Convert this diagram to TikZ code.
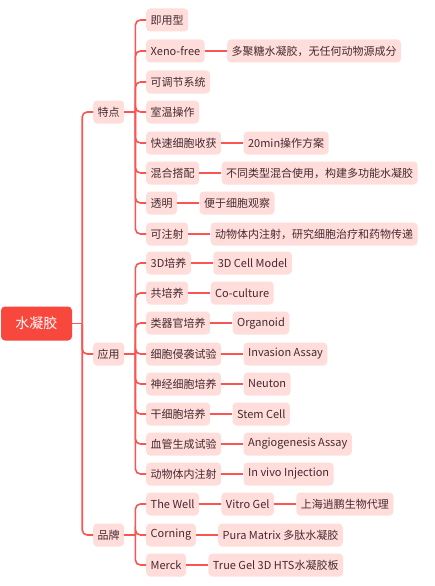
\documentclass[tikz,border=0pt]{standalone}
\usepackage{fontspec}
\setmainfont{Noto Sans CJK SC}
\usetikzlibrary{positioning}
\definecolor{rootred}{HTML}{F8473D}
\definecolor{linered}{HTML}{FA5552}
\definecolor{pinkfill}{HTML}{FFDDDA}
\definecolor{txt}{HTML}{452A30}
\tikzset{
  rootbox/.style={fill=rootred, text=white, rounded corners=4pt, minimum width=71pt, minimum height=34pt, inner sep=0pt, font=\fontsize{14}{16}\selectfont},
  topic/.style={fill=pinkfill, text=txt, rounded corners=4pt, minimum height=23pt, inner xsep=4.5pt, inner ysep=0pt, font=\fontsize{11}{13}\selectfont, anchor=west},
  conn/.style={draw=linered, line width=1.6pt, rounded corners=5pt},
}
\begin{document}
\begin{tikzpicture}[x=1pt,y=-1pt]
\useasboundingbox (0,0) rectangle (435,586);
\node[rootbox] (root) at (36.5,323.5) {水凝胶};
% level 1
\node[topic] (f) at (93,112) {特点};
\node[topic] (a) at (93,354) {应用};
\node[topic] (b) at (93,535) {品牌};
% features
\node[topic] (f1) at (146,20) {即用型};
\node[topic] (f2) at (146,51) {Xeno-free};
\node[topic] (f3) at (146,82) {可调节系统};
\node[topic] (f4) at (146,112) {室温操作};
\node[topic] (f5) at (146,143) {快速细胞收获};
\node[topic] (f6) at (146,173) {混合搭配};
\node[topic] (f7) at (146,203) {透明};
\node[topic] (f8) at (146,234) {可注射};
\node[topic, right=22pt of f2] (f2a) {多聚糖水凝胶，无任何动物源成分};
\node[topic, right=22pt of f5] (f5a) {20min操作方案};
\node[topic, right=22pt of f6] (f6a) {不同类型混合使用，构建多功能水凝胶};
\node[topic, right=22pt of f7] (f7a) {便于细胞观察};
\node[topic, right=22pt of f8] (f8a) {动物体内注射，研究细胞治疗和药物传递};
% applications
\node[topic] (a1) at (146,263) {3D培养};
\node[topic] (a2) at (146,293) {共培养};
\node[topic] (a3) at (146,323) {类器官培养};
\node[topic] (a4) at (146,354) {细胞侵袭试验};
\node[topic] (a5) at (146,384) {神经细胞培养};
\node[topic] (a6) at (146,414) {干细胞培养};
\node[topic] (a7) at (146,444) {血管生成试验};
\node[topic] (a8) at (146,474) {动物体内注射};
\node[topic, right=22pt of a1] (a1a) {3D Cell Model};
\node[topic, right=22pt of a2] (a2a) {Co-culture};
\node[topic, right=22pt of a3] (a3a) {Organoid};
\node[topic, right=22pt of a4] (a4a) {Invasion Assay};
\node[topic, right=22pt of a5] (a5a) {Neuton};
\node[topic, right=22pt of a6] (a6a) {Stem Cell};
\node[topic, right=22pt of a7] (a7a) {Angiogenesis Assay};
\node[topic, right=22pt of a8] (a8a) {In vivo Injection};
% brands
\node[topic] (b1) at (146,504) {The Well};
\node[topic] (b2) at (146,535) {Corning};
\node[topic] (b3) at (146,565) {Merck};
\node[topic, right=22pt of b1] (b1a) {Vitro Gel};
\node[topic, right=22pt of b1a] (b1b) {上海逍鹏生物代理};
\node[topic, right=22pt of b2] (b2a) {Pura Matrix 多肽水凝胶};
\node[topic, right=22pt of b3] (b3a) {True Gel 3D HTS水凝胶板};
% root connectors
\coordinate (rj) at ([xshift=10pt]root.east);
\draw[conn] (root.east) -- (rj);
\foreach \c in {f,a,b} \draw[conn] (rj) |- (\c.west);
% level1 connectors
\foreach \p/\kids in {f/{f1,f2,f3,f4,f5,f6,f7,f8}, a/{a1,a2,a3,a4,a5,a6,a7,a8}, b/{b1,b2,b3}}{
  \coordinate (\p j) at ([xshift=11pt]\p.east);
  \draw[conn] (\p.east) -- (\p j);
  \foreach \k in \kids \draw[conn] (\p j) |- (\k.west);
}
% straight connectors
\foreach \s/\t in {f2/f2a,f5/f5a,f6/f6a,f7/f7a,f8/f8a,a1/a1a,a2/a2a,a3/a3a,a4/a4a,a5/a5a,a6/a6a,a7/a7a,a8/a8a,b1/b1a,b1a/b1b,b2/b2a,b3/b3a}
  \draw[conn] (\s.east) -- (\t.west);
\end{tikzpicture}
\end{document}
